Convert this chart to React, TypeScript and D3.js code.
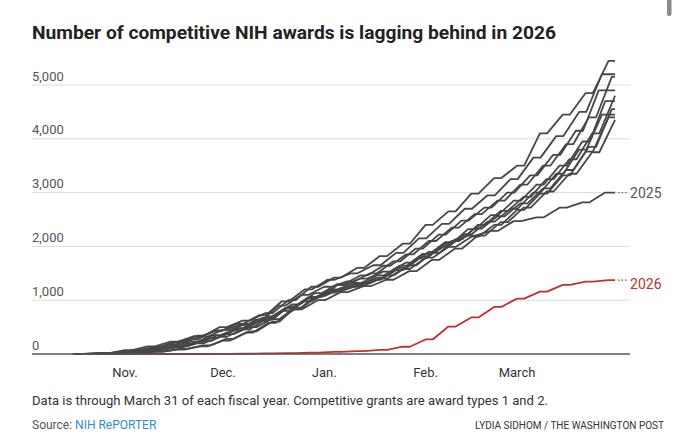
import React from "react";
import * as d3 from "d3";

// Days since Oct. 1 (fiscal-year start), one reading per week; data runs through March 31 (day 181)
const days = [18, 25, 32, 39, 46, 53, 60, 67, 74, 81, 88, 95, 102, 109, 116, 123, 130, 137, 144, 151, 158, 165, 172, 179];
const lastDay = 181;
const weekendDays = 2.2;

// Earlier fiscal years (gray)
const fyA = [0, 12, 55, 120, 220, 340, 500, 620, 760, 1000, 1250, 1420, 1600, 1820, 2050, 2400, 2650, 2980, 3270, 3500, 4100, 4450, 4850, 5450];
const fyB = [0, 8, 40, 90, 170, 270, 420, 560, 720, 980, 1200, 1380, 1500, 1650, 1880, 2150, 2420, 2700, 2950, 3250, 3650, 4050, 4500, 5200];
const fyC = [0, 15, 65, 130, 220, 320, 450, 560, 700, 920, 1130, 1300, 1460, 1640, 1850, 2100, 2350, 2600, 2850, 3150, 3500, 3900, 4400, 5150];
const fyD = [0, 5, 25, 55, 110, 190, 300, 440, 640, 900, 1100, 1250, 1350, 1500, 1720, 1960, 2220, 2480, 2720, 3000, 3320, 3700, 4150, 4900];
const fyE = [0, 4, 20, 50, 100, 160, 280, 420, 600, 860, 1080, 1220, 1320, 1460, 1650, 1880, 2130, 2400, 2660, 2920, 3250, 3620, 4100, 4800];
const fyF = [0, 18, 70, 140, 230, 330, 440, 540, 670, 850, 1040, 1180, 1290, 1420, 1600, 1820, 2060, 2320, 2580, 2850, 3150, 3500, 3950, 4700];
const fyG = [0, 3, 15, 40, 80, 140, 250, 400, 580, 830, 1060, 1280, 1400, 1530, 1700, 1900, 2100, 2330, 2560, 2800, 3080, 3420, 3850, 4550];
const fyH = [0, 10, 40, 85, 150, 230, 350, 470, 610, 800, 980, 1140, 1250, 1380, 1560, 1780, 2000, 2230, 2460, 2700, 3000, 3350, 3800, 4450];
const fyI = [0, 5, 30, 65, 120, 200, 320, 460, 640, 880, 1060, 1170, 1270, 1400, 1580, 1790, 1990, 2180, 2400, 2680, 2980, 3320, 3760, 4400];
const fyJ = [0, 8, 35, 80, 145, 240, 370, 500, 650, 830, 1000, 1150, 1260, 1380, 1540, 1750, 1960, 2200, 2450, 2720, 3020, 3350, 3750, 4350];
const fy2025 = [0, 6, 30, 70, 130, 210, 340, 480, 640, 850, 1050, 1200, 1320, 1460, 1640, 1860, 2080, 2200, 2290, 2470, 2540, 2720, 2820, 3000];
const fy2026 = [0, 0, 0, 0, 0, 0, 2, 5, 10, 15, 25, 40, 55, 75, 135, 270, 510, 680, 875, 1030, 1160, 1285, 1345, 1375];

const graySeries = [fyA, fyB, fyC, fyD, fyE, fyF, fyG, fyH, fyI, fyJ, fy2025];
// each fiscal year's weeks fall on different calendar days (shift in days)
const grayWeekShift = [0, -2, 1, -3, 2, -1, 1, -2, 0, 2, -1];
const redWeekShift = 0;

const yTicks = [0, 1000, 2000, 3000, 4000, 5000];
const monthTickDays = [31, 61, 92, 123, 151];
const monthTickLabels = ["Nov.", "Dec.", "Jan.", "Feb.", "March"];

const FONT = "Roboto, 'Noto Sans', sans-serif";

// each weekly total holds flat over the weekend that follows it; the last one holds to March 31
function withWeekends(values: number[], shift: number): [number, number][] {
  const pts: [number, number][] = [];
  values.forEach((v, i) => {
    const isLast = i === values.length - 1;
    const d = Math.min(days[i] + shift, lastDay);
    pts.push([d, v]);
    const end = isLast ? lastDay : Math.min(d + weekendDays, lastDay);
    if (end > d) pts.push([end, v]);
  });
  return pts;
}

export default function App() {
  const W = 680;
  const H = 439;
  const x = d3.scaleLinear().domain([0, 185]).range([23.7, 628.1]);
  const y = d3.scaleLinear().domain([0, 5000]).range([354, 85]);
  const gridX0 = 32;
  const gridX1 = 630;

  const line = d3
    .line<[number, number]>()
    .x((p) => x(p[0]))
    .y((p) => y(p[1]))
    .curve(d3.curveLinear);

  const end2025 = fy2025[fy2025.length - 1];
  const end2026 = fy2026[fy2026.length - 1];

  return (
    <svg
      width={W}
      height={H}
      viewBox={`0 0 ${W} ${H}`}
      style={{ position: "absolute", left: 0, top: 0, background: "#fff" }}
      fontFamily={FONT}
    >
      <rect x={0} y={0} width={W} height={H} fill="#fff" />
      {/* scrollbar artifact */}
      <rect x={667} y={-4} width={4.5} height={20} rx={2.2} fill="#8a8a8a" />

      <text
        x={32}
        y={39}
        fontSize={19}
        fontWeight={700}
        fill="#222"
        textLength={524}
        lengthAdjust="spacingAndGlyphs"
      >
        Number of competitive NIH awards is lagging behind in 2026
      </text>

      {/* gridlines */}
      {yTicks.filter((t) => t > 0).map((t) => (
        <line key={t} x1={gridX0} x2={gridX1} y1={y(t)} y2={y(t)} stroke="#dcdcdc" strokeWidth={1} />
      ))}
      {yTicks.map((t) => (
        <text key={"l" + t} x={32} y={y(t) - 4.5} fontSize={13} fill="#555">
          {d3.format(",")(t)}
        </text>
      ))}

      {/* 2026 under the gray lines */}
      <path d={line(withWeekends(fy2026, redWeekShift)) || ""} fill="none" stroke="#c2302a" strokeWidth={1.8} strokeLinejoin="round" />
      {graySeries.map((s, i) => (
        <path key={i} d={line(withWeekends(s, grayWeekShift[i])) || ""} fill="none" stroke="#474747" strokeWidth={1.8} strokeLinejoin="round" />
      ))}

      {/* baseline */}
      <line x1={gridX0} x2={gridX1} y1={y(0)} y2={y(0)} stroke="#555" strokeWidth={1.5} />

      {/* month ticks */}
      {monthTickDays.map((d, i) => (
        <text key={d} x={x(d)} y={377} fontSize={13} fill="#333" textAnchor="middle">
          {monthTickLabels[i]}
        </text>
      ))}

      {/* direct labels */}
      <line x1={x(lastDay) + 3} x2={x(lastDay) + 12} y1={y(end2025)} y2={y(end2025)} stroke="#777" strokeWidth={1.2} strokeDasharray="1.5,2" />
      <text x={x(lastDay) + 15} y={y(end2025) + 5} fontSize={14} fill="#555">2025</text>
      <line x1={x(lastDay) + 3} x2={x(lastDay) + 12} y1={y(end2026)} y2={y(end2026)} stroke="#c2302a" strokeWidth={1.2} strokeDasharray="1.5,2" />
      <text x={x(lastDay) + 15} y={y(end2026) + 9} fontSize={14} fill="#c2302a">2026</text>

      {/* notes */}
      <text x={32} y={405} fontSize={13} fill="#333" textLength={516} lengthAdjust="spacingAndGlyphs">
        Data is through March 31 of each fiscal year. Competitive grants are award types 1 and 2.
      </text>
      <text x={32} y={429} fontSize={12} fill="#555">
        Source: <tspan fill="#2a8fcf">NIH RePORTER</tspan>
      </text>
      <text x={664} y={429} fontSize={10} fill="#333" textAnchor="end">
        LYDIA SIDHOM / THE WASHINGTON POST
      </text>
    </svg>
  );
}
